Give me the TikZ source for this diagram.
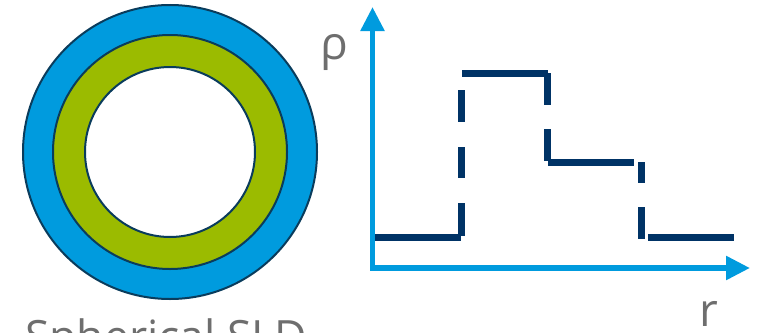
\documentclass[tikz,border=0pt]{standalone}
\usepackage{fontspec}
\setmainfont{Open Sans}
\usetikzlibrary{arrows.meta}
\definecolor{sblue}{RGB}{0,155,222}
\definecolor{sgreen}{RGB}{155,187,0}
\definecolor{snavy}{RGB}{0,51,102}
\definecolor{sedge}{RGB}{10,60,92}
\definecolor{sgray}{RGB}{110,110,110}
\tikzset{
  ring/.style={draw=sedge, line width=2pt},
  axis/.style={draw=sblue, line width=5.5pt, {Triangle[length=24pt,width=23pt]}-{Triangle[length=24pt,width=23pt]}},
  prof/.style={draw=snavy, line width=7pt},
  lbl/.style={text=sgray, font=\fontsize{46}{46}\selectfont, inner sep=0pt},
}
\begin{document}
\begin{tikzpicture}[x=1pt,y=-1pt]
\useasboundingbox (0,0) rectangle (757,332);
% sphere
\filldraw[ring, fill=sblue] (170,152) circle (147);
\filldraw[ring, fill=sgreen] (170,152) circle (117);
\filldraw[ring, fill=white] (170,152) circle (85);
\node[lbl, font=\fontsize{44.5}{44.5}\selectfont, anchor=base west] (title) at (25,352) {Spherical SLD};
% axes
\coordinate (ytop) at (372.5,7);
\coordinate (orig) at (372.5,268);
\coordinate (xend) at (750,268);
\draw[axis, line join=miter] (ytop) -- (orig) -- (xend);
\node[lbl, anchor=base west] (rho) at (320,59) {ρ};
\node[lbl, anchor=base west] (r) at (699,326) {r};
% profile
\draw[prof] (375,237) -- (461,237);
\draw[prof] (461.5,90) -- (461.5,122);
\draw[prof] (461.5,147) -- (461.5,178);
\draw[prof] (461.5,203) -- (461.5,236);
\draw[prof] (462,73) -- (548,73);
\draw[prof] (547.7,73) -- (547.7,105);
\draw[prof] (547.7,129) -- (547.7,161);
\draw[prof] (548,162.5) -- (634,162.5);
\draw[prof] (641,162) -- (641,183);
\draw[prof] (641,207) -- (641,239);
\draw[prof] (648,237) -- (734,237);
\end{tikzpicture}
\end{document}
